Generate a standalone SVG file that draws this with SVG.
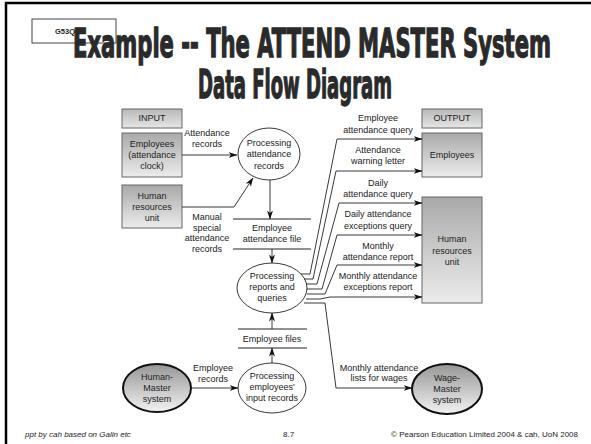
<svg xmlns="http://www.w3.org/2000/svg" width="591" height="444" viewBox="0 0 591 444">
<style>
.t{font-family:"Liberation Sans",Arial,sans-serif;font-size:9px;fill:#222;text-anchor:middle}
.box{stroke:#666;stroke-width:1}
.proc{fill:#fff;stroke:#222;stroke-width:0.9}
.ext{stroke:#111;stroke-width:2}
.store{stroke:#222;stroke-width:1}
.c{fill:none;stroke:#222;stroke-width:0.9}
.title{font-family:"DejaVu Sans Condensed","DejaVu Sans",sans-serif;font-stretch:condensed;font-weight:bold;fill:#2a2a2a;stroke:#2a2a2a;stroke-width:1.3;text-anchor:middle}
.foot{font-family:"Liberation Sans",Arial,sans-serif;font-size:8px;fill:#222}
</style>
<defs>
<linearGradient id="gBox" x1="0" y1="0" x2="0" y2="1">
<stop offset="0" stop-color="#a9a9a9"/><stop offset="1" stop-color="#ececec"/>
</linearGradient>
<linearGradient id="gHead" x1="0" y1="0" x2="0" y2="1">
<stop offset="0" stop-color="#b8b8b8"/><stop offset="1" stop-color="#e6e6e6"/>
</linearGradient>
<linearGradient id="gExt" x1="0" y1="0" x2="0" y2="1">
<stop offset="0" stop-color="#969696"/><stop offset="1" stop-color="#f2f2f2"/>
</linearGradient>
<marker id="arr" markerUnits="userSpaceOnUse" markerWidth="9" markerHeight="6" refX="8.5" refY="3" orient="auto">
<path d="M0,0 L9,3 L0,6 L2.5,3 z" fill="#111"/>
</marker>
</defs>
<rect width="591" height="444" fill="#fff"/>
<path d="M6,444 V3 H591" fill="none" stroke="#000" stroke-width="2.5"/>
<g id="header">
<rect x="32" y="19" width="84" height="24" fill="#fff" stroke="#444" stroke-width="1"/>
<text x="55" y="34" font-family="Liberation Sans,Arial,sans-serif" font-size="7.5" font-weight="bold" fill="#222">G53QAT</text>
<text class="title" x="312" y="57" font-size="39" textLength="478" lengthAdjust="spacingAndGlyphs">Example -- The ATTEND MASTER System</text>
<text class="title" x="295" y="98" font-size="39" textLength="194" lengthAdjust="spacingAndGlyphs">Data Flow Diagram</text>
</g>
<g id="input">
<rect class="box" x="122" y="109" width="60" height="19" fill="url(#gHead)"/>
<text class="t" x="152" y="121">INPUT</text>
</g>
<g id="employees-in">
<rect class="box" x="122" y="133" width="60" height="44" fill="url(#gBox)"/>
<text class="t" x="152" y="147">Employees</text>
<text class="t" x="152" y="158">(attendance</text>
<text class="t" x="152" y="169">clock)</text>
</g>
<g id="hr-in">
<rect class="box" x="122" y="185" width="60" height="43" fill="url(#gBox)"/>
<text class="t" x="152" y="199">Human</text>
<text class="t" x="152" y="210">resources</text>
<text class="t" x="152" y="221">unit</text>
</g>
<g id="output">
<rect class="box" x="422" y="109" width="60" height="19" fill="url(#gHead)"/>
<text class="t" x="452" y="121">OUTPUT</text>
</g>
<g id="employees-out">
<rect class="box" x="422" y="133" width="60" height="44" fill="url(#gBox)"/>
<text class="t" x="452" y="158">Employees</text>
</g>
<g id="hr-out">
<rect class="box" x="422" y="197" width="60" height="106" fill="url(#gBox)"/>
<text class="t" x="452" y="242">Human</text>
<text class="t" x="452" y="254">resources</text>
<text class="t" x="452" y="265">unit</text>
</g>
<g id="proc-attendance">
<ellipse class="proc" cx="269" cy="154" rx="31" ry="26"/>
<text class="t" x="269" y="146">Processing</text>
<text class="t" x="269" y="157">attendance</text>
<text class="t" x="269" y="169">records</text>
</g>
<g id="store-attendance">
<path class="store" d="M233,219 H311 M233,249 H311"/>
<text class="t" x="272" y="231">Employee</text>
<text class="t" x="272" y="242">attendance file</text>
</g>
<g id="proc-reports">
<ellipse class="proc" cx="272" cy="288" rx="35" ry="25"/>
<text class="t" x="272" y="279">Processing</text>
<text class="t" x="272" y="290">reports and</text>
<text class="t" x="272" y="301">queries</text>
</g>
<g id="store-files">
<path class="store" d="M238,329 H307 M238,348 H307"/>
<text class="t" x="272" y="342">Employee files</text>
</g>
<g id="proc-employees">
<ellipse class="proc" cx="272" cy="388" rx="34" ry="25"/>
<text class="t" x="272" y="379">Processing</text>
<text class="t" x="272" y="390">employees'</text>
<text class="t" x="272" y="401">input records</text>
</g>
<g id="human-master">
<ellipse class="ext" cx="157" cy="388" rx="34" ry="24" fill="url(#gExt)"/>
<text class="t" x="157" y="380" fill="#333">Human-</text>
<text class="t" x="157" y="391" fill="#333">Master</text>
<text class="t" x="157" y="402" fill="#333">system</text>
</g>
<g id="wage-master">
<ellipse class="ext" cx="447" cy="389" rx="35" ry="25" fill="url(#gExt)"/>
<text class="t" x="447" y="381">Wage-</text>
<text class="t" x="447" y="392">Master</text>
<text class="t" x="447" y="403">system</text>
</g>
<g id="connectors">
<path class="c" d="M182,155 H237" marker-end="url(#arr)"/>
<path class="c" d="M182,207 H234 L253,178" marker-end="url(#arr)"/>
<path class="c" d="M270,180 V219" marker-end="url(#arr)"/>
<path class="c" d="M272,249 V263" marker-end="url(#arr)"/>
<path class="c" d="M272,329 V313" marker-end="url(#arr)"/>
<path class="c" d="M272,363 V348" marker-end="url(#arr)"/>
<path class="c" d="M191,388 H238" marker-end="url(#arr)"/>
<path class="c" d="M301,274 H310 L337,139 H422" marker-end="url(#arr)"/>
<path class="c" d="M304,279 H313 L336,171 H422" marker-end="url(#arr)"/>
<path class="c" d="M306,284 H317 L339,203 H422" marker-end="url(#arr)"/>
<path class="c" d="M307,289 H322 L337,235 H422" marker-end="url(#arr)"/>
<path class="c" d="M307,294 H325 L337,265 H422" marker-end="url(#arr)"/>
<path class="c" d="M306,299 H320 L330,297 H422" marker-end="url(#arr)"/>
<path class="c" d="M304,303 H325 L336,388 H412" marker-end="url(#arr)"/>
</g>
<g id="labels">
<text class="t" x="207" y="136">Attendance</text>
<text class="t" x="207" y="147">records</text>
<text class="t" x="207" y="220">Manual</text>
<text class="t" x="207" y="231">special</text>
<text class="t" x="207" y="241">attendance</text>
<text class="t" x="207" y="252">records</text>
<text class="t" x="213" y="371">Employee</text>
<text class="t" x="213" y="382">records</text>
<text class="t" x="378" y="121">Employee</text>
<text class="t" x="378" y="133">attendance query</text>
<text class="t" x="378" y="153">Attendance</text>
<text class="t" x="378" y="164">warning letter</text>
<text class="t" x="378" y="186">Daily</text>
<text class="t" x="378" y="197">attendance query</text>
<text class="t" x="378" y="217">Daily attendance</text>
<text class="t" x="378" y="229">exceptions query</text>
<text class="t" x="378" y="249">Monthly</text>
<text class="t" x="378" y="260">attendance report</text>
<text class="t" x="378" y="279">Monthly attendance</text>
<text class="t" x="378" y="290">exceptions report</text>
<text class="t" x="379" y="371">Monthly attendance</text>
<text class="t" x="379" y="381">lists for wages</text>
</g>
<g id="footer">
<text class="foot" x="25" y="437" font-style="italic">ppt by cah based on Galin etc</text>
<text class="foot" x="283" y="437">8.7</text>
<text class="foot" x="578" y="437" text-anchor="end">© Pearson Education Limited 2004 &amp; cah, UoN 2008</text>
</g>
</svg>
